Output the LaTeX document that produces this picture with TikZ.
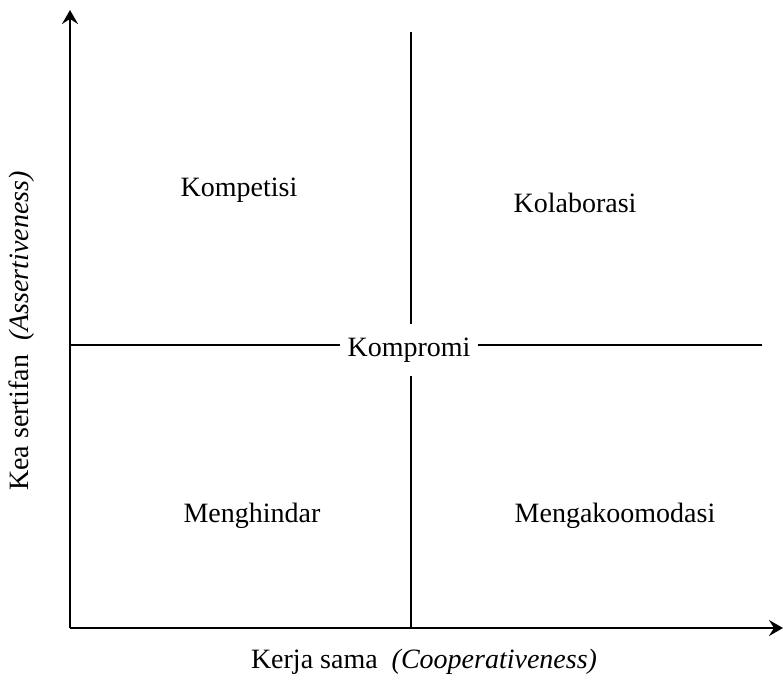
\documentclass[tikz,border=0pt]{standalone}
\usepackage{fontspec}
\setmainfont{Liberation Serif}
\usepackage{tikz}
\usetikzlibrary{arrows.meta}
\usetikzlibrary{positioning}

\begin{document}
\begin{tikzpicture}[x=1pt,y=-1pt,
                    nodes={font=\fontsize{28}{32}\selectfont},
                    axis/.style={line width=2.2pt,-{Stealth[length=14pt,width=16pt,inset=5pt]}},
                    divider/.style={line width=1.8pt}]
 \useasboundingbox (0,0) rectangle (783,683);
 % axes
 \coordinate (origin) at (70,628);
 \coordinate (ytop) at (70,10);
 \coordinate (xend) at (783,628);
 \draw[axis] (origin) -- (ytop);
 \draw[axis] (origin) -- (xend);
 \node (xlabel) at (424,662) {Kerja sama\ \ \textit{(Cooperativeness)}};
 \node[rotate=90] (ylabel) at (22,331) {Kea sertifan\ \ \textit{(Assertiveness)}};
 % middle lines
 \node[inner xsep=7pt,inner ysep=14pt] (kompromi) at (409,350) {Kompromi};
 \coordinate (vtop) at (411,32);
 \coordinate (vbot) at (411,628);
 \coordinate (hleft) at (70,345);
 \coordinate (hright) at (762,345);
 \draw[divider] (vtop) -- (vtop |- kompromi.north);
 \draw[divider] (vbot |- kompromi.south) -- (vbot);
 \draw[divider] (hleft) -- (hleft -| kompromi.west);
 \draw[divider] (hright -| kompromi.east) -- (hright);
 % quadrants
 \node (kompetisi) at (239,190) {Kompetisi};
 \node (kolaborasi) at (575,203) {Kolaborasi};
 \node (menghindar) at (252,516) {Menghindar};
 \node (mengakoomodasi) at (615,516) {Mengakoomodasi};
\end{tikzpicture}
\end{document}
